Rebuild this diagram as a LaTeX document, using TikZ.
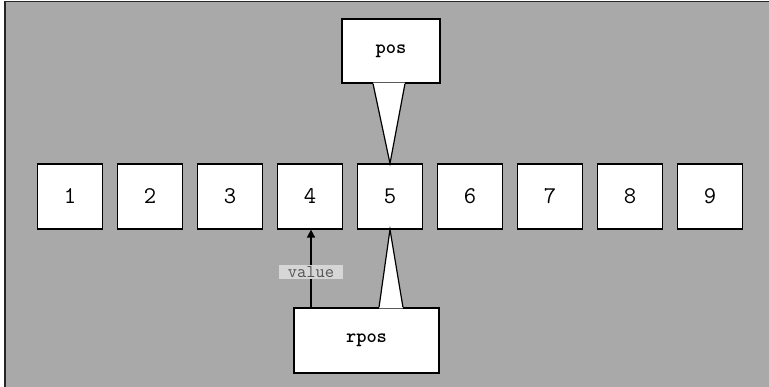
\documentclass[tikz,border=0pt]{standalone}
\usetikzlibrary{arrows.meta,calc}
\definecolor{bggray}{HTML}{A9A9A9}
\definecolor{lblgray}{HTML}{D6D6D6}
\definecolor{lbltext}{HTML}{555555}
\begin{document}
\begin{tikzpicture}[x=1pt,y=-1pt,
  cell/.style={draw=black,fill=white,line width=1.2pt,minimum width=65pt,minimum height=65pt,inner sep=0pt,font=\ttfamily\fontsize{24}{24}\selectfont},
  callbox/.style={draw=black,fill=white,line width=1.2pt,inner sep=0pt,font=\ttfamily\bfseries\fontsize{19.5}{19.5}\selectfont},
  pointer/.style={draw=black,line width=1.2pt,line join=miter},
  lbl/.style={fill=lblgray,text=lbltext,inner xsep=8.5pt,inner ysep=1.5pt,font=\ttfamily\fontsize{18}{18}\selectfont}]
\useasboundingbox (0,0) rectangle (769,387);
\fill[bggray] (5,1.5) rectangle (780,400);
\draw[line width=1.5pt,black!85] (5,400) -- (5,1.5) -- (780,1.5);
\foreach \i in {1,...,9}{
  \node[cell] (b\i) at ({70+80*(\i-1)},196.5) {\i};
}
% pos callout
\node[callbox,minimum width=98pt,minimum height=64pt] (pos) at (391,51) {pos};
\fill[white] ([xshift=-18pt,yshift=1pt]pos.south) -- (b5.north) -- ([xshift=14pt,yshift=1pt]pos.south) -- cycle;
\draw[pointer] ([xshift=-18pt]pos.south) -- (b5.north) -- ([xshift=14pt]pos.south);
% rpos callout
\node[callbox,minimum width=145pt,minimum height=65pt] (rpos) at (366.5,340.5) {rpos};
\fill[white] ([xshift=12.5pt,yshift=-1pt]rpos.north) -- (b5.south) -- ([xshift=36.5pt,yshift=-1pt]rpos.north) -- cycle;
\draw[pointer] ([xshift=12.5pt]rpos.north) -- (b5.south) -- ([xshift=36.5pt]rpos.north);
% value arrow
\draw[line width=1.5pt,-{Triangle[length=8pt,width=8pt]}] ([xshift=1pt]b4.south |- rpos.north) -- ([xshift=1pt]b4.south)
  node[lbl,pos=0.45] (val) {value};
\end{tikzpicture}
\end{document}
